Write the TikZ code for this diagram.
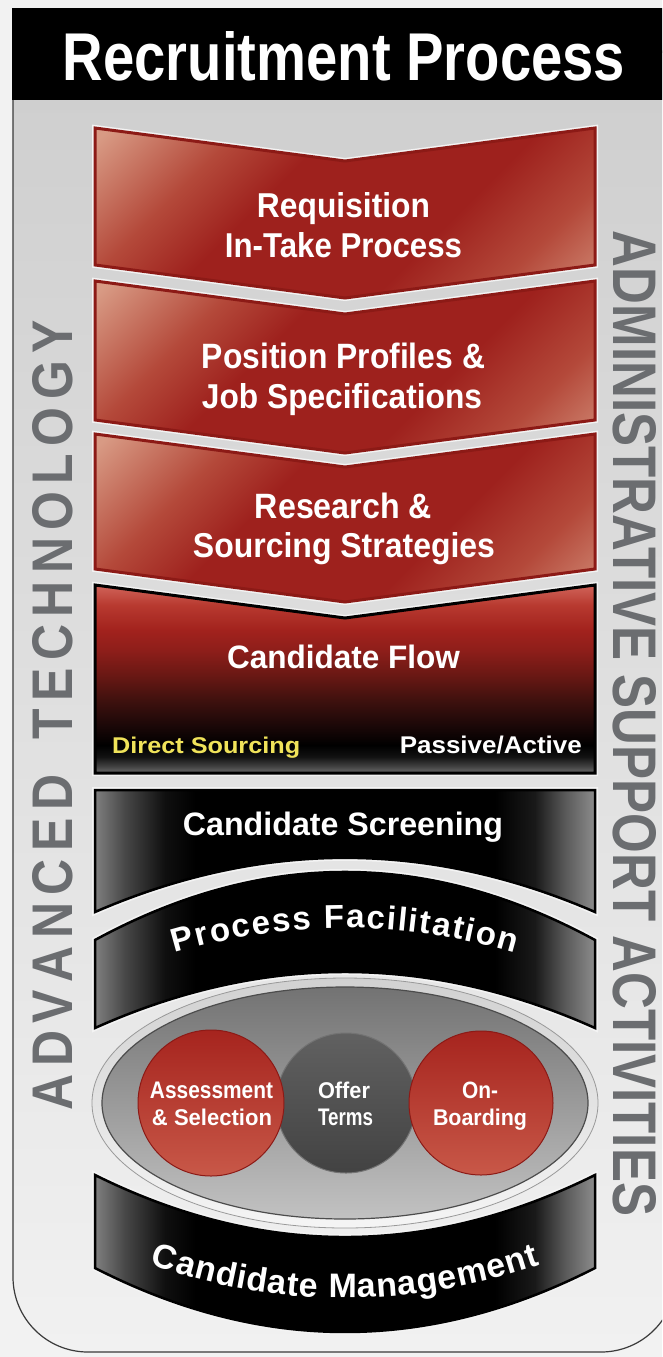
\documentclass[tikz,border=0pt]{standalone}
\usepackage{fontspec}
\usepackage{graphicx}
\setmainfont{Liberation Sans}
\usetikzlibrary{decorations.text}

% palette
\definecolor{pagebg}{HTML}{F2F2F2}
\definecolor{panelTop}{HTML}{CDCDCD}
\definecolor{panelBot}{HTML}{F1F1F1}
\definecolor{panelEdge}{HTML}{3A3A3A}
\definecolor{sidegray}{HTML}{6B6D70}
\definecolor{haloWhite}{HTML}{F3F3F3}
\definecolor{chevLight}{HTML}{D89A84}
\definecolor{chevMid}{HTML}{B4493A}
\definecolor{chevRed}{HTML}{9E211D}
\definecolor{chevEdge}{HTML}{8C1A16}
\definecolor{srcYellow}{HTML}{F0E35A}

% fills
\pgfdeclarehorizontalshading{chevshade}{100bp}{%
  color(0bp)=(chevLight); color(16bp)=(chevLight); color(30bp)=(chevMid);
  color(40bp)=(chevRed); color(62bp)=(chevRed); color(74bp)=(chevMid);
  color(88bp)=(chevLight); color(100bp)=(chevLight)}
\pgfdeclareverticalshading{flowshade}{100bp}{%
  color(0bp)=(black!58); color(25bp)=(black!58); color(27bp)=(black!76);
  color(29.3bp)=(black!93); color(32.4bp)=(black); color(37.8bp)=({rgb,255:red,28;green,8;blue,8});
  color(44.4bp)=({rgb,255:red,63;green,17;blue,14}); color(51.1bp)=({rgb,255:red,106;green,24;blue,20});
  color(57.7bp)=({rgb,255:red,142;green,30;blue,26}); color(63bp)=({rgb,255:red,162;green,34;blue,29});
  color(69.7bp)=({rgb,255:red,184;green,58;blue,48}); color(75bp)=({rgb,255:red,208;green,100;blue,90});
  color(100bp)=({rgb,255:red,208;green,100;blue,90})}
\pgfdeclarehorizontalshading{bandshade}{100bp}{%
  color(0bp)=(black!50); color(25bp)=(black!50); color(28bp)=(black!72);
  color(32bp)=(black!94); color(35bp)=(black); color(65bp)=(black);
  color(69bp)=(black!90); color(72bp)=(black!65); color(75bp)=(black!45); color(100bp)=(black!45)}

\newcommand\fitline[3]{\resizebox{#1pt}{#2pt}{\bfseries #3}}
\newcommand\lsp{\kern0.15em}
\newcommand\archfont{\fontsize{33pt}{38pt}\selectfont\bfseries}
\newcommand\smilefont{\fontsize{34pt}{38pt}\selectfont\bfseries}

\tikzset{
  halo/.style={draw=haloWhite, line width=6pt, line join=miter},
  chevron/.style={shading=chevshade, shading angle=-45, draw=chevEdge, line width=3pt, line join=miter},
  flowbox/.style={shading=flowshade, draw=black, line width=3pt, line join=miter},
  band/.style={shading=bandshade, draw=black, line width=2.5pt, line join=miter},
  label/.style={anchor=base, inner sep=0pt, text=white},
  curvelabel/.style={decorate, decoration={text along path, text align={fit to path}, text color=white, text={#1}}},
  redball/.style={circle, minimum size=#1, inner sep=0pt, draw=chevEdge, line width=1pt,
    top color={rgb,255:red,166;green,36;blue,30}, middle color=chevRed,
    bottom color={rgb,255:red,200;green,88;blue,72}},
  darkball/.style={circle, minimum size=#1, inner sep=0pt, draw=black!55, line width=1pt,
    top color=black!62, middle color=black!83, bottom color=black!74},
  sidetext/.style={inner sep=0pt, text=sidegray},
}

\begin{document}
\begin{tikzpicture}[x=1pt, y=-1pt]
  \useasboundingbox (0,0) rectangle (662,1357);
  \clip (0,0) rectangle (662,1357);
  \fill[pagebg] (0,0) rectangle (662,1357);

  % outer panel with rounded lower corners
  \path[top color=panelTop, bottom color=panelBot, draw=panelEdge, line width=1.2pt]
    (13,20) [rounded corners=75pt] -- (13,1352) -- (676,1352) -- (676,20) -- cycle;

  % title bar
  \fill[black] (12,8) rectangle (670,100);
  \node[label] (title) at (344,80) {\fitline{562}{49}{Recruitment Process}};

  % side captions
  \node[sidetext, rotate=90] (advtech) at (53,715)
    {\resizebox{790pt}{40pt}{\bfseries A\lsp D\lsp V\lsp A\lsp N\lsp C\lsp E\lsp D\hspace{0.7em}T\lsp E\lsp C\lsp H\lsp N\lsp O\lsp L\lsp O\lsp G\lsp Y}};
  \node[sidetext, rotate=-90] (adminsup) at (635,723.5)
    {\fitline{985}{43}{ADMINISTRATIVE SUPPORT ACTIVITIES}};

  % red chevrons
  \foreach \t/\b in {128/265, 281/420, 434/569}{
    \path[halo] (95,\t) -- (345,\t+33) -- (595,\t) -- (595,\b) -- (345,\b+33) -- (95,\b) -- cycle;
    \path[chevron] (95,\t) -- (345,\t+33) -- (595,\t) -- (595,\b) -- (345,\b+33) -- (95,\b) -- cycle;
  }
  \node[label] (req1) at (343.5,217) {\fitline{173}{25}{Requisition}};
  \node[label] (req2) at (343.5,257) {\fitline{237}{25}{In-Take Process}};
  \node[label] (pos1) at (343.5,368) {\fitline{283}{25.5}{Position Profiles \&}};
  \node[label] (pos2) at (342,408) {\fitline{280}{25}{Job Specifications}};
  \node[label] (res1) at (343.5,518) {\fitline{177}{25.5}{Research \&}};
  \node[label] (res2) at (344,557.5) {\fitline{302}{25}{Sourcing Strategies}};

  % candidate flow box
  \path[halo] (95,585) -- (345,618) -- (595,585) -- (595,773) -- (95,773) -- cycle;
  \path[flowbox] (95,585) -- (345,618) -- (595,585) -- (595,773) -- (95,773) -- cycle;
  \node[label] (flow) at (343.5,668) {\fitline{233}{23.5}{Candidate Flow}};
  \node[label, anchor=base west, text=srcYellow] (direct) at (112,753) {\fitline{188}{16.5}{Direct Sourcing}};
  \node[label, anchor=base east] (passive) at (582,753) {\fitline{182}{17.5}{Passive/Active}};

  % candidate screening
  \path[halo] (95,790) -- (595,790) -- (595,912) .. controls (428.3,839.8) and (261.7,839.8) .. (95,912) -- cycle;
  \path[band] (95,790) -- (595,790) -- (595,912) .. controls (428.3,839.8) and (261.7,839.8) .. (95,912) -- cycle;
  \node[label] (screen) at (343,835) {\fitline{320}{23.5}{Candidate Screening}};

  % process facilitation band
  \path[halo] (95,940) .. controls (261.7,849.3) and (428.3,849.3) .. (595,940) -- (595,1028)
    .. controls (428.3,953.3) and (261.7,953.3) .. (95,1028) -- cycle;
  \path[band] (95,940) .. controls (261.7,849.3) and (428.3,849.3) .. (595,940) -- (595,1028)
    .. controls (428.3,953.3) and (261.7,953.3) .. (95,1028) -- cycle;
  \path[curvelabel={|\archfont|Process Facilitation}]
    (175,953) .. controls (288.3,919.7) and (401.7,919.7) .. (515,953);

  % oval holding the three stages
  \path[top color=black!18, bottom color=black!4, draw=black!40, line width=0.8pt]
    (345,1103) ellipse [x radius=253, y radius=125];
  \path[top color=black!55, middle color=black!40, bottom color=black!24, draw=black!70, line width=1.2pt]
    (345,1103) ellipse [x radius=243, y radius=116];

  \node[darkball=140pt] (offer) at (346,1103) {};
  \node[redball=146pt] (assess) at (211,1103) {};
  \node[redball=144pt] (onboard) at (481,1103) {};

  \node[label] (assess1) at (211.5,1098) {\fitline{123}{16.5}{Assessment}};
  \node[label] (assess2) at (212,1125) {\fitline{120}{16.5}{\& Selection}};
  \node[label] (offer1) at (344,1098) {\fitline{52}{16.5}{Offer}};
  \node[label] (offer2) at (345.5,1125) {\fitline{55}{16.5}{Terms}};
  \node[label] (onb1) at (480,1098) {\fitline{36}{16.5}{On-}};
  \node[label] (onb2) at (480,1125) {\fitline{94}{16.5}{Boarding}};

  % candidate management band
  \path[halo] (95,1175) .. controls (261.7,1257.7) and (428.3,1257.7) .. (595,1175) -- (595,1268)
    .. controls (428.3,1353.3) and (261.7,1353.3) .. (95,1268) -- cycle;
  \path[band] (95,1175) .. controls (261.7,1257.7) and (428.3,1257.7) .. (595,1175) -- (595,1268)
    .. controls (428.3,1353.3) and (261.7,1353.3) .. (95,1268) -- cycle;
  \path[curvelabel={|\smilefont|Candidate Management}]
    (150,1264.7) .. controls (280,1309.1) and (410,1309.1) .. (540,1264.7);
\end{tikzpicture}
\end{document}
